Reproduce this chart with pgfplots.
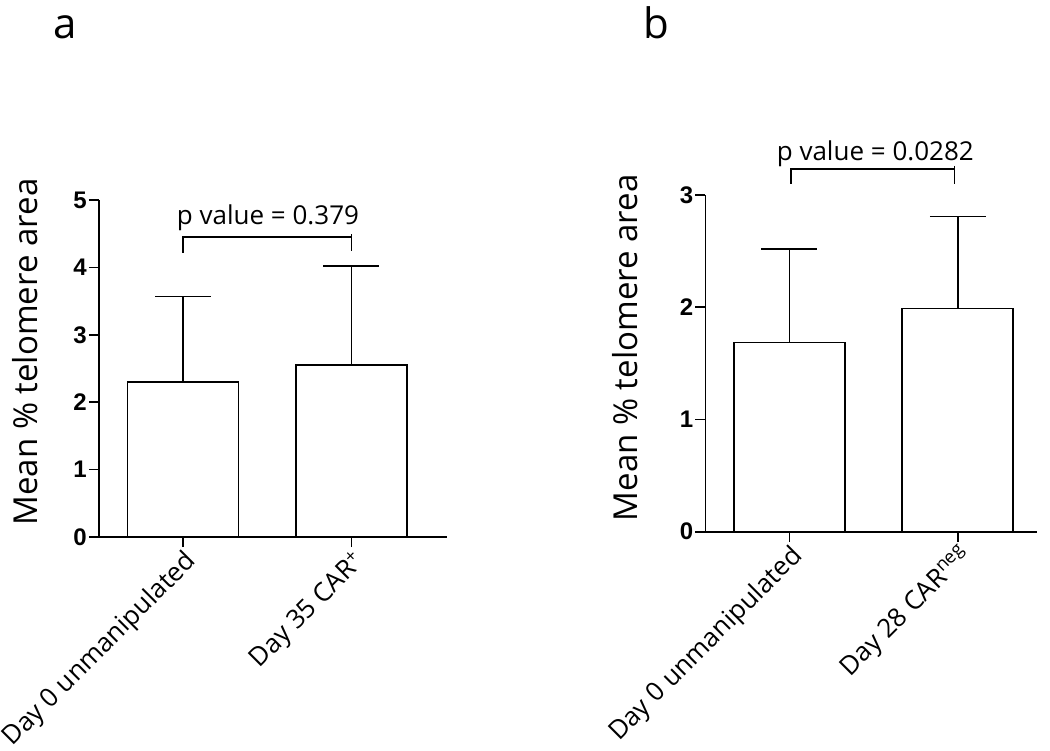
\documentclass[border=0pt]{standalone}
\usepackage{pgfplots}
\pgfplotsset{compat=1.18}
\usepackage{fontspec}
\setmainfont{Open Sans}
\newfontfamily\tickfont{Liberation Sans}
\begin{document}
\begin{tikzpicture}[x=1pt,y=1pt]
\useasboundingbox (0,0) rectangle (1050,750);
\pgfplotsset{
  panel/.style={
    scale only axis,
    axis lines*=left,
    tick pos=left,
    tick align=outside,
    major tick length=10pt,
    axis line style={line width=1.6pt, black},
    every tick/.style={line width=1.6pt, black},
    xtick={0,1},
    xmin=-0.5,
    ymin=0,
    /pgf/number format/assume math mode=true,
    yticklabel style={font=\tickfont\bfseries\fontsize{24}{24}\selectfont, inner sep=2pt},
    xticklabel style={font=\fontsize{26}{26}\selectfont, rotate=45, anchor=north east, inner sep=1pt},
    ylabel style={font=\fontsize{33}{33}\selectfont},
    ybar, bar width=111pt,
    clip=false,
  },
  barstyle/.style={
    fill=white, draw=black, line width=1.6pt,
    error bars/.cd, y dir=plus, y explicit,
    error bar style={line width=1.6pt, black},
    error mark options={rotate=90, line width=1.6pt, mark size=28pt, black},
  },
}
% Panel a
\begin{axis}[panel,
  at={(99pt,213pt)}, anchor=south west,
  width=348pt, height=337pt,
  xmax=1.568, ymax=5, ytick={0,1,2,3,4,5},
  xticklabels={Day 0 unmanipulated, Day 35 CAR\textsuperscript{+}},
  ylabel={Mean \% telomere area},
  ylabel style={at={(axis description cs:-0.178,0.549)}, anchor=base},
]
\addplot[barstyle] coordinates {(0,2.30) +- (0,1.27) (1,2.55) +- (0,1.47)};
\draw[line width=1.6pt] (axis cs:0,4.22) -- (axis cs:0,4.45) -- (axis cs:1,4.45);
\draw[line width=1.6pt] (axis cs:1,4.49) -- (axis cs:1,4.25);
\node[anchor=base, font=\fontsize{26}{26}\selectfont, inner sep=0pt] at (axis cs:0.504,4.63) {p value = 0.379};
\end{axis}
% Panel b
\begin{axis}[panel,
  at={(705.3pt,218.3pt)}, anchor=south west,
  width=331.4pt, height=336.7pt,
  xmax=1.469, ymax=3, ytick={0,1,2,3},
  xticklabels={Day 0 unmanipulated, Day 28 CAR\textsuperscript{neg}},
  ylabel={Mean \% telomere area},
  ylabel style={at={(axis description cs:-0.206,0.546)}, anchor=base},
]
\addplot[barstyle] coordinates {(0,1.684) +- (0,0.836) (1,1.99) +- (0,0.817)};
\draw[line width=1.6pt] (axis cs:0.01,3.10) -- (axis cs:0.01,3.23) -- (axis cs:0.98,3.23);
\draw[line width=1.6pt] (axis cs:0.98,3.26) -- (axis cs:0.98,3.10);
\node[anchor=base, font=\fontsize{26}{26}\selectfont, inner sep=0pt] at (axis cs:0.51,3.31) {p value = 0.0282};
\end{axis}
\node[anchor=base, font=\fontsize{42}{42}\selectfont, inner sep=0pt] at (65,711) {a};
\node[anchor=base, font=\fontsize{42}{42}\selectfont, inner sep=0pt] at (656,711) {b};
\end{tikzpicture}
\end{document}
